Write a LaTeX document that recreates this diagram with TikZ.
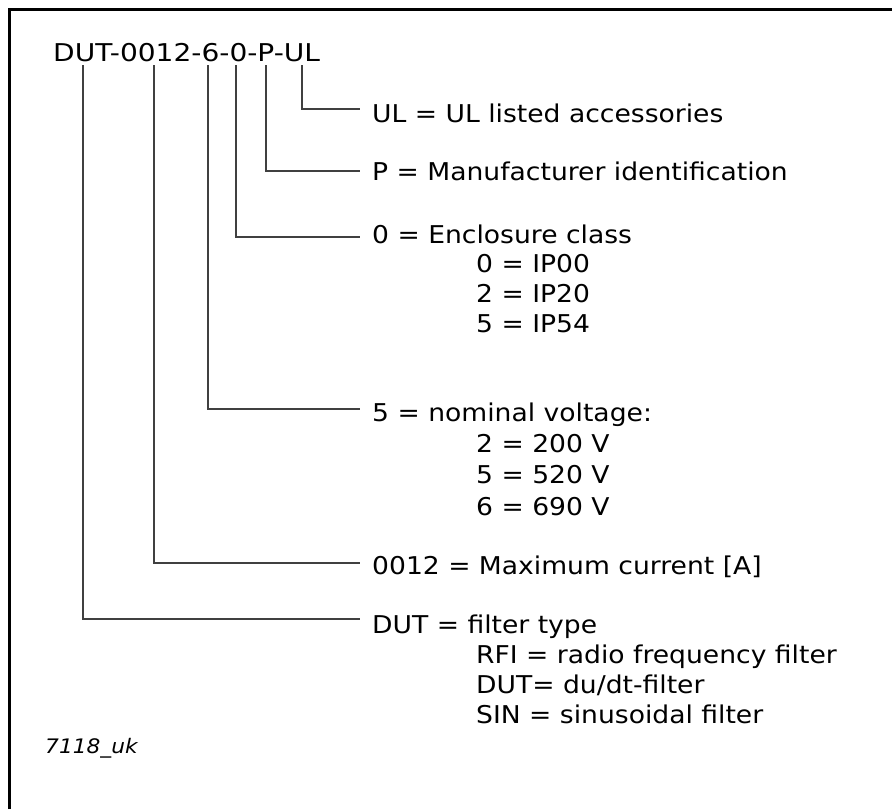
\documentclass[tikz,border=0pt]{standalone}
\usepackage{fontspec}
\setmainfont{DejaVu Sans}[FakeStretch=1.085]
\newfontfamily\titlefont{DejaVu Sans}[FakeStretch=1.145]
\begin{document}
\begin{tikzpicture}[x=1pt,y=-1pt,
  lbl/.style={anchor=base west,inner sep=0pt,font=\fontsize{24.5}{28}\selectfont},
  conn/.style={draw=black!75,line width=1.1pt},
  frame/.style={line width=3pt}]
\useasboundingbox (0,0) rectangle (892,809);
\draw[frame] (9.5,809) -- (9.5,9.5) -- (892,9.5);
\node[lbl,font=\titlefont\fontsize{24.5}{28}\selectfont] (title) at (53,61) {DUT-0012-6-0-P-UL};
% connector tops
\coordinate (tDUT) at (83,65);
\coordinate (tCur) at (154,65);
\coordinate (tVol) at (208,65);
\coordinate (tEnc) at (236,65);
\coordinate (tMan) at (266,65);
\coordinate (tUL) at (302,65);
% connector ends
\coordinate (eUL) at (360,109);
\coordinate (eMan) at (360,171);
\coordinate (eEnc) at (360,237);
\coordinate (eVol) at (360,409);
\coordinate (eCur) at (360,563);
\coordinate (eDUT) at (360,619);
\draw[conn] (tUL) |- (eUL);
\draw[conn] (tMan) |- (eMan);
\draw[conn] (tEnc) |- (eEnc);
\draw[conn] (tVol) |- (eVol);
\draw[conn] (tCur) |- (eCur);
\draw[conn] (tDUT) |- (eDUT);
% labels
\node[lbl] (lUL) at (372,122) {UL = UL listed accessories};
\node[lbl] (lMan) at (372,180) {P = Manufacturer identification};
\node[lbl] (lEnc) at (372,243) {0 = Enclosure class};
\node[lbl] (lEnc1) at (476,272) {0 = IP00};
\node[lbl] (lEnc2) at (476,302) {2 = IP20};
\node[lbl] (lEnc3) at (476,332) {5 = IP54};
\node[lbl] (lVol) at (372,421) {5 = nominal voltage:};
\node[lbl] (lVol1) at (476,452) {2 = 200 V};
\node[lbl] (lVol2) at (476,483) {5 = 520 V};
\node[lbl] (lVol3) at (476,515) {6 = 690 V};
\node[lbl] (lCur) at (372,574) {0012 = Maximum current [A]};
\node[lbl] (lDUT) at (372,633) {DUT = filter type};
\node[lbl] (lDUT1) at (476,663) {RFI = radio frequency filter};
\node[lbl] (lDUT2) at (476,693) {DUT= du/dt-filter};
\node[lbl] (lDUT3) at (476,723) {SIN = sinusoidal filter};
\node[anchor=base west,inner sep=0pt,font=\itshape\fontsize{20}{23}\selectfont] (code) at (45,753) {7118\_uk};
\end{tikzpicture}
\end{document}
